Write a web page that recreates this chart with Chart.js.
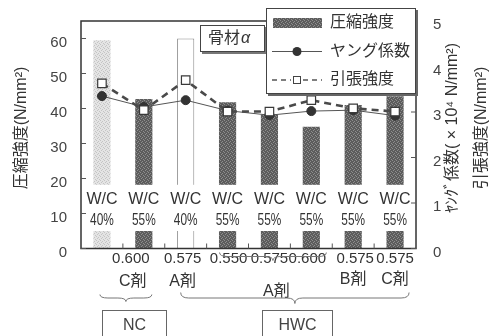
<!DOCTYPE html>
<html>
<head>
<meta charset="utf-8">
<script src="https://cdn.jsdelivr.net/npm/chart.js@4.4.1/dist/chart.umd.min.js"></script>
<style>
  body { margin: 0; background: #fff; }
</style>
</head>
<body>
<canvas id="chart" width="498" height="336"></canvas>
<script>
// values
var concrete = ['NC', 'NC', 'HWC', 'HWC', 'HWC', 'HWC', 'HWC', 'HWC'];
var wcRatio = ['40%', '55%', '40%', '55%', '55%', '55%', '55%', '55%'];
var admixRate = ['', '0.600', '0.575', '0.550', '0.575', '0.600', '0.575', '0.575'];
var admixType = ['', 'C剤', 'A剤', 'A剤', 'A剤', 'A剤', 'B剤', 'C剤'];
var compStrength = [59.5, 42.7, 60.0, 41.8, 38.3, 34.8, 41.0, 43.5];
var youngMod = [3.35, 3.11, 3.26, 3.03, 2.93, 3.02, 3.04, 2.92];
var tensStrength = [3.63, 3.04, 3.70, 3.01, 3.01, 3.26, 3.08, 3.01];
var leftTicks = [0, 10, 20, 30, 40, 50, 60];
var rightTicks = [0, 1, 2, 3, 4, 5];

var labels = concrete.map(function(c, i) {
  return c + ' W/C' + wcRatio[i] + ' ' + admixType[i] + admixRate[i];
});

var LATIN = '"Liberation Sans", Arial, sans-serif';
var JP = '"Liberation Sans", "Noto Sans CJK JP", sans-serif';
var TXT = '#333';

var cv = document.getElementById('chart');
var ctx = cv.getContext('2d');

function stipple(base, dot) {
  var c = document.createElement('canvas');
  c.width = 4; c.height = 4;
  var g = c.getContext('2d');
  g.fillStyle = base; g.fillRect(0, 0, 4, 4);
  g.fillStyle = dot;
  g.fillRect(0, 0, 1, 1); g.fillRect(2, 1, 1, 1);
  g.fillRect(1, 2, 1, 1); g.fillRect(3, 3, 1, 1);
  return ctx.createPattern(c, 'repeat');
}
var darkFill = stipple('#5c5c5c', '#8e8e8e');
var lightFill = stipple('#e4e4e4', '#c4c4c4');

function brace(g, x1, x2, y, h) {
  var m = (x1 + x2) / 2, q = h / 2;
  g.beginPath();
  g.moveTo(x1, y);
  g.quadraticCurveTo(x1, y + q, x1 + 8, y + q);
  g.lineTo(m - 8, y + q);
  g.quadraticCurveTo(m, y + q, m, y + h);
  g.quadraticCurveTo(m, y + q, m + 8, y + q);
  g.lineTo(x2 - 8, y + q);
  g.quadraticCurveTo(x2, y + q, x2, y);
  g.stroke();
}

function fixWidth(w) {
  return function(s) {
    s.width = w;
    s.paddingTop = 0;
    s.paddingBottom = 0;
  };
}

var decor = {
  id: 'decor',
  afterDraw: function(chart) {
    var g = chart.ctx, a = chart.chartArea;
    var xs = chart.scales.x, ys = chart.scales.y, y2 = chart.scales.y2;
    g.save();

    // frame
    g.strokeStyle = '#333';
    g.lineWidth = 1.5;
    g.strokeRect(a.left, a.top, a.right - a.left, a.bottom - a.top);

    // inner tick marks
    g.lineWidth = 1;
    g.strokeStyle = '#555';
    g.beginPath();
    leftTicks.forEach(function(v) {
      var p = ys.getPixelForValue(v);
      g.moveTo(a.left, p); g.lineTo(a.left + 5, p);
    });
    rightTicks.forEach(function(v) {
      var p = y2.getPixelForValue(v);
      g.moveTo(a.right, p); g.lineTo(a.right - 5, p);
    });
    for (var i = 0; i < labels.length - 1; i++) {
      var bx = (xs.getPixelForValue(i) + xs.getPixelForValue(i + 1)) / 2;
      g.moveTo(bx, a.bottom); g.lineTo(bx, a.bottom - 5);
    }
    g.stroke();

    // W/C labels over the bars
    var bandTop = ys.getPixelForValue(18.2), bandBot = ys.getPixelForValue(5);
    g.textAlign = 'center';
    g.textBaseline = 'middle';
    wcRatio.forEach(function(w, i) {
      var cx = xs.getPixelForValue(i);
      g.fillStyle = '#fff';
      g.fillRect(cx - 11, bandTop, 22, bandBot - bandTop);
      g.fillStyle = TXT;
      g.font = '16px ' + LATIN;
      g.fillText('W/C', cx, ys.getPixelForValue(14));
      g.save();
      g.translate(cx, ys.getPixelForValue(8));
      g.scale(0.74, 1);
      g.fillText(w, 0, 0);
      g.restore();
    });

    // admixture rate row
    var shift = [0, -13, -3, 1, 0, -4, 2, 0];
    g.fillStyle = TXT;
    g.font = '15px ' + LATIN;
    admixRate.forEach(function(r, i) {
      if (r) g.fillText(r, xs.getPixelForValue(i) + shift[i], a.bottom + 10);
    });
    // admixture type row
    g.font = '16px ' + JP;
    g.fillText(admixType[1], xs.getPixelForValue(1) - 11, a.bottom + 33);
    g.fillText(admixType[2], xs.getPixelForValue(2) - 3, a.bottom + 33);
    g.fillText(admixType[6], xs.getPixelForValue(6), a.bottom + 31);
    g.fillText(admixType[7], xs.getPixelForValue(7), a.bottom + 31);
    g.fillText(admixType[4], xs.getPixelForValue(4) + 7, a.bottom + 43);

    // braces
    g.strokeStyle = '#777';
    g.lineWidth = 1;
    brace(g, xs.getPixelForValue(3) - 8, xs.getPixelForValue(5) + 15, a.bottom + 4, 8);
    brace(g, xs.getPixelForValue(0) - 2, xs.getPixelForValue(1) + 8, a.bottom + 46, 7);
    brace(g, xs.getPixelForValue(2) - 5, xs.getPixelForValue(7) + 14, a.bottom + 44, 11);

    // group boxes
    g.strokeStyle = '#666';
    g.strokeRect(102.5, 310.5, 64, 40);
    g.strokeRect(262.5, 310.5, 70, 40);
    g.fillStyle = '#444';
    g.font = '16px ' + LATIN;
    g.fillText('NC', 134.5, 326);
    g.fillText('HWC', 297.5, 326);

    // axis titles
    g.fillStyle = TXT;
    g.font = '16px ' + JP;
    [[22, '圧縮強度(N/mm²)'], [453, 'ﾔﾝｸﾞ係数( × 10⁴ N/mm²)'], [482, '引張強度(N/mm²)']].forEach(function(t) {
      g.save();
      g.translate(t[0], 128);
      g.rotate(-Math.PI / 2);
      g.fillText(t[1], 0, 0);
      g.restore();
    });

    // aggregate tag
    g.fillStyle = '#777';
    g.fillRect(202, 27, 65, 27);
    g.fillStyle = '#fff';
    g.fillRect(200, 25, 65, 27);
    g.strokeStyle = '#444';
    g.strokeRect(200.5, 25.5, 64, 26);
    g.fillStyle = TXT;
    g.textAlign = 'left';
    g.font = '16px ' + JP;
    g.fillText('骨材', 208, 39);
    g.font = 'italic 16px ' + LATIN;
    g.fillText('α', 241, 39);

    // legend
    var lx = 266, ly = 8, lw = 150, lh = 86;
    g.fillStyle = '#666';
    g.fillRect(lx + 2, ly + 2, lw, lh);
    g.fillStyle = '#fff';
    g.fillRect(lx, ly, lw, lh);
    g.strokeStyle = '#444';
    g.strokeRect(lx + 0.5, ly + 0.5, lw - 1, lh - 1);

    var rows = [ly + 15, ly + 43.5, ly + 72];
    g.fillStyle = darkFill;
    g.fillRect(273, rows[0] - 5, 49, 10);

    g.strokeStyle = '#555';
    g.lineWidth = 1;
    g.beginPath();
    g.moveTo(272, rows[1]); g.lineTo(322, rows[1]);
    g.stroke();
    g.fillStyle = '#333';
    g.beginPath();
    g.arc(297, rows[1], 4.5, 0, Math.PI * 2);
    g.fill();

    g.setLineDash([5, 4]);
    g.lineWidth = 1.3;
    g.beginPath();
    g.moveTo(272, rows[2]); g.lineTo(291, rows[2]);
    g.moveTo(303, rows[2]); g.lineTo(322, rows[2]);
    g.stroke();
    g.setLineDash([]);
    g.fillStyle = '#fff';
    g.fillRect(293, rows[2] - 4, 8, 8);
    g.lineWidth = 1;
    g.strokeStyle = '#444';
    g.strokeRect(293.5, rows[2] - 3.5, 7, 7);

    g.fillStyle = TXT;
    g.font = '16px ' + JP;
    g.fillText('圧縮強度', 330, rows[0]);
    g.fillText('ヤング係数', 330, rows[1]);
    g.fillText('引張強度', 330, rows[2]);

    g.restore();
  }
};

new Chart(cv, {
  type: 'bar',
  data: {
    labels: labels,
    datasets: [
      {
        type: 'line',
        label: '引張強度',
        data: tensStrength,
        yAxisID: 'y2',
        order: 1,
        borderColor: '#4a4a4a',
        borderWidth: 2.6,
        borderDash: [7, 5],
        pointStyle: 'rect',
        pointRadius: 6,
        pointBackgroundColor: '#fff',
        pointBorderColor: '#3a3a3a',
        pointBorderWidth: 1.2,
        tension: 0
      },
      {
        type: 'line',
        label: 'ヤング係数',
        data: youngMod,
        yAxisID: 'y2',
        order: 2,
        borderColor: '#555',
        borderWidth: 1,
        pointRadius: 4.5,
        pointBackgroundColor: '#333',
        pointBorderColor: '#333',
        tension: 0
      },
      {
        label: '圧縮強度',
        data: compStrength,
        yAxisID: 'y',
        order: 3,
        backgroundColor: [lightFill, darkFill, '#fff', darkFill, darkFill, darkFill, darkFill, darkFill],
        borderColor: ['#bbb', '#555', '#8a8a8a', '#555', '#555', '#555', '#555', '#555'],
        borderWidth: [0, 0, 1, 0, 0, 0, 0, 0],
        barPercentage: 0.41,
        categoryPercentage: 1
      }
    ]
  },
  options: {
    responsive: false,
    animation: false,
    layout: { padding: { left: 0, right: 0, top: 21, bottom: 0 } },
    plugins: { legend: { display: false }, tooltip: { enabled: false } },
    scales: {
      x: {
        offset: true,
        grid: { display: false, drawTicks: false },
        border: { display: false },
        ticks: { display: false },
        afterFit: function(s) { s.height = 87.5; }
      },
      y: {
        position: 'left',
        min: 0,
        max: 65,
        afterBuildTicks: function(s) { s.ticks = leftTicks.map(function(v) { return { value: v }; }); },
        grid: { display: false, drawTicks: false },
        border: { display: false },
        ticks: { padding: 14, labelOffset: 4, color: '#444', font: { family: LATIN, size: 15 } },
        afterFit: fixWidth(81)
      },
      y2: {
        position: 'right',
        min: 0,
        max: 5,
        afterBuildTicks: function(s) { s.ticks = rightTicks.map(function(v) { return { value: v }; }); },
        grid: { display: false, drawTicks: false },
        border: { display: false },
        ticks: { padding: 17, labelOffset: 4, color: '#444', font: { family: LATIN, size: 15 } },
        afterFit: fixWidth(82)
      }
    }
  },
  plugins: [decor]
});
</script>
</body>
</html>
